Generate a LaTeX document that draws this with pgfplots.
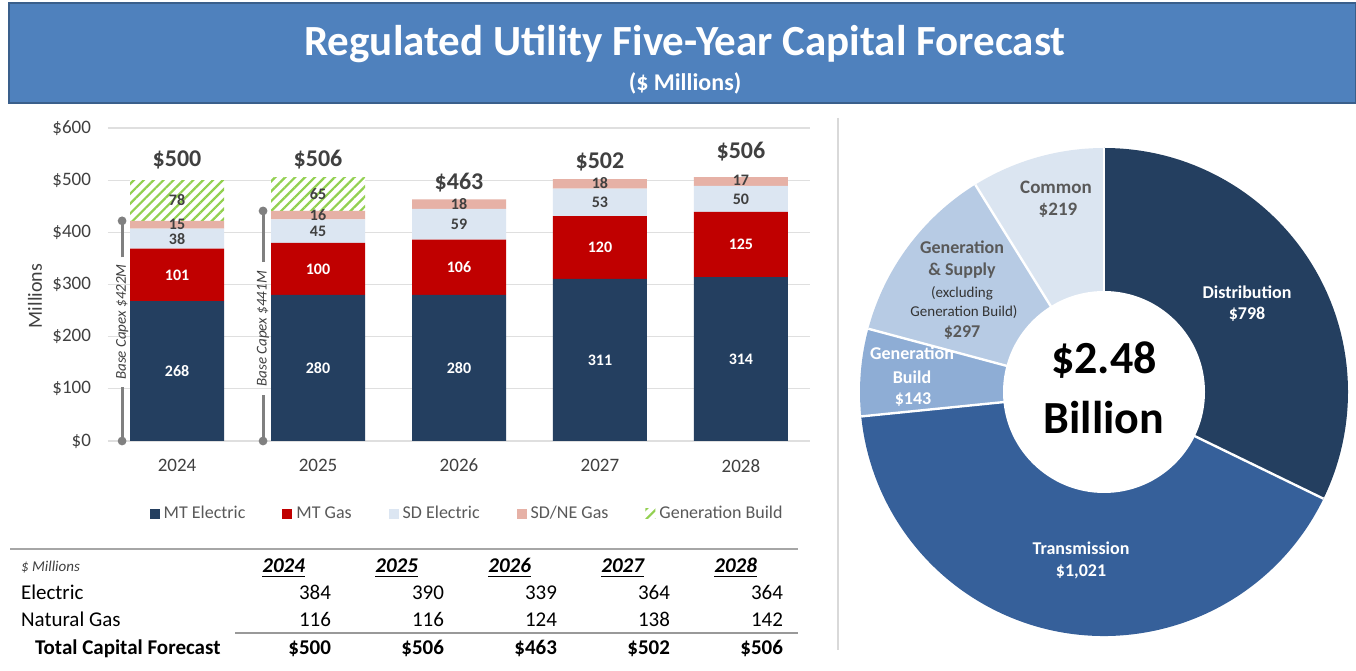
\documentclass[border=0pt]{standalone}
\usepackage{fontspec}
\setmainfont{Carlito}
\usepackage{pgfplots}
\pgfplotsset{compat=1.18}
\usetikzlibrary{patterns.meta}
\definecolor{mtelec}{HTML}{243F60}
\definecolor{mtgas}{HTML}{C00000}
\definecolor{sdelec}{HTML}{DCE6F2}
\definecolor{sdne}{HTML}{E6B1A6}
\definecolor{genb}{HTML}{92D050}
\definecolor{banner}{HTML}{4F81BD}
\definecolor{bannerdk}{HTML}{3A5F8B}
\definecolor{txt}{HTML}{404040}
\definecolor{ltxt}{HTML}{595959}
\definecolor{pdist}{HTML}{243F60}
\definecolor{ptrans}{HTML}{36609A}
\definecolor{pgenb}{HTML}{8EADD5}
\definecolor{pgens}{HTML}{B7CBE4}
\definecolor{pcomm}{HTML}{DBE5F1}
\newcommand\seg[4]{\node[#4, font=\fontsize{8}{9}\selectfont\bfseries] at (#1,#2) {#3};}
\newcommand\tot[3]{\node[txt, font=\fontsize{12}{14}\selectfont\bfseries] at (#1,#2) {\$#3};}
\begin{document}
\begin{tikzpicture}
\begin{scope}[x=0.5pt,y=-0.5pt]
\path[use as bounding box] (0,0) rectangle (1356,656);
\fill[white] (0,0) rectangle (1356,656);
\filldraw[fill=banner, draw=bannerdk, line width=1pt] (9,3) rectangle (1356,103);
\node[white, font=\fontsize{21.5}{24}\selectfont\bfseries] at (685,44) {Regulated Utility Five-Year Capital Forecast};
\node[white, font=\fontsize{12}{14}\selectfont\bfseries] at (685,83) {(\$ Millions)};
\draw[gray!30, line width=0.75pt] (838,118) -- (838,650);
\node[rotate=90, txt, font=\fontsize{10}{12}\selectfont] at (35,296) {Millions};
% table
\draw[gray!70, line width=1pt] (10,549) -- (798,549);
\draw[gray!80, line width=1pt] (235,633) -- (798,633);
\node[anchor=base west, txt, font=\fontsize{7.5}{9}\selectfont\itshape] at (14,572) {\$ Millions};
\foreach \yr/\xx in {2024/312,2025/425,2026/538,2027/651,2028/764}{
  \node[anchor=base east, black, font=\fontsize{10.5}{12}\selectfont\bfseries\itshape] at (\xx,573) {\underline{\yr}};
}
\node[anchor=base west, black, font=\fontsize{10.5}{12}\selectfont] at (14,600) {Electric};
\node[anchor=base west, black, font=\fontsize{10.5}{12}\selectfont] at (14,627) {Natural Gas};
\node[anchor=base west, black, font=\fontsize{10.5}{12}\selectfont\bfseries] at (28,654) {Total Capital Forecast};
\foreach \e/\g/\t/\xx in {384/116/500/338,390/116/506/451,339/124/463/564,364/138/502/677,364/142/506/790}{
  \node[anchor=base east, black, font=\fontsize{10.5}{12}\selectfont] at (\xx,600) {\e};
  \node[anchor=base east, black, font=\fontsize{10.5}{12}\selectfont] at (\xx,627) {\g};
  \node[anchor=base east, black, font=\fontsize{10.5}{12}\selectfont\bfseries] at (\xx,654) {\$\t};
}
\end{scope}

\begin{axis}[at={(54pt,-220.5pt)}, anchor=south west, scale only axis,
  width=351pt, height=156.5pt,
  ymin=0, ymax=600, xmin=-0.49, xmax=4.49,
  ybar stacked, bar width=47pt,
  ytick={0,100,...,600},
  /pgf/number format/assume math mode=true,
  yticklabel={\$\pgfmathprintnumber{\tick}},
  xtick={0,1,2,3,4}, xticklabels={2024,2025,2026,2027,2028},
  ticklabel style={font=\fontsize{9.5}{11}\selectfont, text=txt},
  yticklabel style={xshift=-5pt},
  xticklabel style={yshift=-5.5pt},
  ymajorgrids, grid style={draw=gray!25, line width=0.6pt},
  axis line style={draw=none}, tick style={draw=none}, major tick length=0pt,
  clip=false,
  legend style={at={(0.513,-0.233)}, anchor=center, draw=none, legend columns=5,
    font=\fontsize{9}{11}\selectfont, text=ltxt,
    /tikz/every even column/.append style={column sep=16.5pt}},
  legend image code/.code={\path[#1] (0pt,-2.5pt) rectangle (5pt,2.5pt);},
]
\addplot[fill=mtelec, draw=none] coordinates {(0,268)(1,280)(2,280)(3,311)(4,314)};
\addlegendentry{MT Electric}
\addplot[fill=mtgas, draw=none] coordinates {(0,101)(1,100)(2,106)(3,120)(4,125)};
\addlegendentry{MT Gas}
\addplot[fill=sdelec, draw=none] coordinates {(0,38)(1,45)(2,59)(3,53)(4,50)};
\addlegendentry{SD Electric}
\addplot[fill=sdne, draw=none] coordinates {(0,15)(1,16)(2,18)(3,18)(4,17)};
\addlegendentry{SD/NE Gas}
\addplot[fill=white, draw=none, postaction={pattern={Lines[angle=45,distance=3.5pt,line width=1.1pt]}, pattern color=genb}] coordinates {(0,78)(1,65)(2,0)(3,0)(4,0)};
\addlegendentry{Generation Build}
\end{axis}

% annotations in the axis' data frame (x: year index, y: $M)
\begin{scope}[shift={(88.536pt,-220.5pt)}, x=70.4819pt, y=0.260833pt]
\seg{0}{134}{268}{white}\seg{1}{140}{280}{white}\seg{2}{140}{280}{white}\seg{3}{155.5}{311}{white}\seg{4}{157}{314}{white}
\seg{0}{318.5}{101}{white}\seg{1}{330}{100}{white}\seg{2}{333}{106}{white}\seg{3}{371}{120}{white}\seg{4}{376.5}{125}{white}
\seg{0}{388}{38}{txt}\seg{1}{402.5}{45}{txt}\seg{2}{415.5}{59}{txt}\seg{3}{457.5}{53}{txt}\seg{4}{464}{50}{txt}
\seg{0}{414.5}{15}{txt}\seg{1}{433}{16}{txt}\seg{2}{454}{18}{txt}\seg{3}{494}{18}{txt}\seg{4}{500}{17}{txt}
\seg{0}{461}{78}{txt}\seg{1}{473.5}{65}{txt}
\tot{0}{538}{500}\tot{1}{539}{506}\tot{2}{495}{463}\tot{3}{535}{502}\tot{4}{554}{506}
\draw[gray, line width=1.5pt] (-0.39,0) -- (-0.39,104);
\draw[gray, line width=1.5pt] (-0.39,352) -- (-0.39,422);
\fill[gray] (-0.39,0) circle[radius=2.2pt];
\fill[gray] (-0.39,422) circle[radius=2.2pt];
\node[rotate=90, txt, font=\fontsize{7.5}{9}\selectfont\itshape] at (-0.39,228) {Base Capex \$422M};
\draw[gray, line width=1.5pt] (0.61,0) -- (0.61,88);
\draw[gray, line width=1.5pt] (0.61,343) -- (0.61,441);
\fill[gray] (0.61,0) circle[radius=2.2pt];
\fill[gray] (0.61,441) circle[radius=2.2pt];
\node[rotate=90, txt, font=\fontsize{7.5}{9}\selectfont\itshape] at (0.61,215) {Base Capex \$441M};
\end{scope}

% donut
\begin{scope}[shift={(552pt,-196pt)}, x=0.5pt, y=0.5pt]
\xdef\cur{90}
\foreach \v/\c in {798/pdist,1021/ptrans,143/pgenb,297/pgens,219/pcomm}{
  \pgfmathsetmacro\nxt{\cur-\v/2478*360}
  \fill[\c] (0,0) -- (\cur:244) arc[start angle=\cur, end angle=\nxt, radius=244] -- cycle;
  \xdef\cur{\nxt}
}
\xdef\cur{90}
\foreach \v in {798,1021,143,297,219}{
  \pgfmathsetmacro\nxt{\cur-\v/2478*360}
  \draw[white, line width=1.2pt] (0,0) -- (\cur:244);
  \xdef\cur{\nxt}
}
\fill[white] (0,0) circle[radius=101];
\node[white, font=\fontsize{9}{10}\selectfont\bfseries] at (143,100) {Distribution};
\node[white, font=\fontsize{9}{10}\selectfont\bfseries] at (143,78) {\$798};
\node[white, font=\fontsize{9}{10}\selectfont\bfseries] at (-23,-156) {Transmission};
\node[white, font=\fontsize{9}{10}\selectfont\bfseries] at (-23,-180) {\$1,021};
\node[white, font=\fontsize{9}{10}\selectfont\bfseries] at (-192,39) {Generation};
\node[white, font=\fontsize{9}{10}\selectfont\bfseries] at (-192,15) {Build};
\node[white, font=\fontsize{9}{10}\selectfont\bfseries] at (-191,-8) {\$143};
\node[ltxt, font=\fontsize{9}{10}\selectfont\bfseries] at (-142,145) {Generation};
\node[ltxt, font=\fontsize{9}{10}\selectfont\bfseries] at (-142,121) {\& Supply};
\node[black!80, font=\fontsize{7.5}{9}\selectfont] at (-142,99) {(excluding};
\node[black!80, font=\fontsize{7.5}{9}\selectfont] at (-140,80) {Generation Build)};
\node[ltxt, font=\fontsize{9}{10}\selectfont\bfseries] at (-142,59) {\$297};
\node[ltxt, font=\fontsize{9.5}{11}\selectfont\bfseries] at (-48,205) {Common};
\node[ltxt, font=\fontsize{9.5}{11}\selectfont\bfseries] at (-46,182) {\$219};
\node[black, font=\fontsize{23}{26}\selectfont\bfseries] at (0,32) {\$2.48};
\node[black, font=\fontsize{23}{26}\selectfont\bfseries] at (0,-26) {Billion};
\end{scope}
\end{tikzpicture}
\end{document}
